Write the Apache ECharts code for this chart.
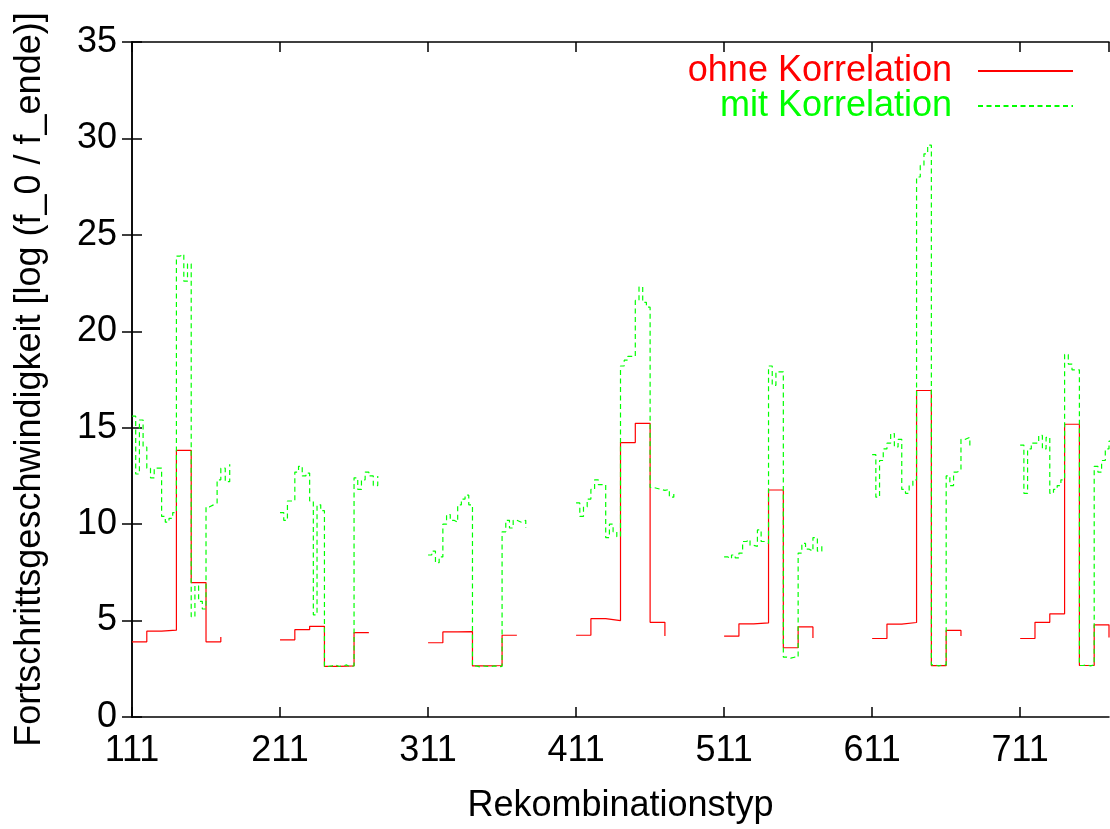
<!DOCTYPE html>
<html><head><meta charset="utf-8">
<script src="https://cdn.jsdelivr.net/npm/echarts@6/dist/echarts.min.js"></script>
<style>html,body{margin:0;padding:0;background:#fff;} #c{width:1110px;height:829px;}</style>
</head><body><div id="c"></div>
<script>
// Recombination type groups (x-axis tick labels)
const groupCodes = [111, 211, 311, 411, 511, 611, 711];
const xMaxCode = 771;
const yTicks = [0, 5, 10, 15, 20, 25, 30, 35];

// x offsets (in code units) inside each group
const redOffsets = [0, 10, 20, 30, 40, 50, 60];
const greenOffsets = [0, 2.5, 5, 7.5, 10, 12.5, 15, 17.5, 20, 22.5, 25, 27.5, 30, 32.5, 35, 37.5,
                      40, 42.5, 45, 47.5, 50, 52.5, 55, 57.5, 60, 63, 66];

// "ohne Korrelation" values per group
const red111 = [3.9, 4.45, 4.5, 13.83, 6.97, 3.9, 4.15];
const red211 = [4.0, 4.53, 4.7, 2.62, 2.65, 4.38, 4.4];
const red311 = [3.85, 4.41, 4.43, 2.65, 2.67, 4.24, 4.26];
const red411 = [4.24, 5.1, 5.0, 14.23, 15.23, 4.91, 4.2];
const red511 = [4.19, 4.83, 4.88, 11.77, 3.59, 4.67, 4.1];
const red611 = [4.07, 4.82, 4.9, 16.93, 2.66, 4.49, 4.2];
const red711 = [4.07, 4.91, 5.35, 15.18, 2.67, 4.78, 4.12];

// "mit Korrelation" values per group
const green111 = [15.6, 12.6, 15.4, 14.0, 12.9, 12.4, 12.9, 12.9, 10.4, 10.1, 10.3, 10.6,
                  23.9, 24.0, 22.6, 23.5, 5.2, 6.8, 6.0, 5.6, 10.9, 11.0, 11.1, 12.3, 12.9, 12.2, 13.1];
const green211 = [10.6, 10.2, 11.2, 11.2, 12.7, 13.0, 12.5, 12.65, 11.2, 5.3, 11.0, 10.7,
                  2.62, 2.65, 2.7, 2.62, 2.65, 2.7, 2.6, 2.66, 12.4, 11.8, 12.3, 12.7, 12.5, 12.0, 12.5];
const green311 = [8.4, 8.6, 8.0, 8.3, 10.0, 10.5, 10.2, 10.1, 11.0, 11.3, 11.5, 11.0,
                  2.65, 2.6, 2.65, 2.62, 2.62, 2.65, 2.6, 2.62, 9.6, 10.2, 9.8, 10.2, 10.1, 10.2, 9.8];
const green411 = [11.1, 10.4, 10.9, 11.3, 11.8, 12.3, 12.05, 12.05, 9.3, 10.0, 9.6, 9.35,
                  18.2, 18.5, 18.7, 18.7, 21.6, 22.3, 21.5, 21.25, 11.9, 11.85, 11.8, 11.75, 11.8, 11.4, 11.6];
const green511 = [8.3, 8.2, 8.4, 8.25, 8.5, 9.1, 9.2, 8.9, 8.85, 9.7, 9.1, 9.0,
                  18.2, 17.2, 17.9, 17.9, 3.1, 3.05, 3.1, 3.1, 8.5, 9.0, 8.7, 8.6, 9.3, 8.6, 9.0];
const green611 = [13.6, 11.4, 13.3, 13.9, 14.2, 14.7, 14.0, 14.4, 11.8, 11.6, 12.0, 12.3,
                  28.0, 28.6, 29.2, 29.65, 2.7, 2.65, 2.7, 2.7, 12.5, 12.0, 12.7, 12.8, 14.4, 14.5, 13.9];
const green711 = [14.1, 11.6, 13.9, 14.2, 14.2, 14.6, 13.9, 14.5, 11.6, 11.8, 12.0, 12.3,
                  18.8, 18.3, 18.0, 18.0, 2.67, 2.7, 2.65, 2.7, 13.0, 12.7, 13.3, 13.9, 14.3, 14.5, 14.0];

const redGroups = [red111, red211, red311, red411, red511, red611, red711];
const greenGroups = [green111, green211, green311, green411, green511, green611, green711];

function build(offsets, groups) {
  const out = [];
  groups.forEach((vals, g) => {
    const base = groupCodes[g] - groupCodes[0];
    vals.forEach((v, i) => out.push([base + offsets[i], v]));
    // break the line after each group (same x, so no extra horizontal step)
    out.push([base + offsets[vals.length - 1], null]);
  });
  return out;
}

const FONT = 'Liberation Sans';
const axisColor = '#000';
const chart = echarts.init(document.getElementById('c'), null, {renderer: 'canvas'});
const xBase = {
  type: 'value', min: 0, max: xMaxCode - groupCodes[0], interval: 100,
  splitLine: {show: false},
  axisLine: {show: true, onZero: false, lineStyle: {color: axisColor, width: 1.5}},
  axisTick: {show: true, inside: true, length: 10, lineStyle: {color: axisColor, width: 1.5}}
};
const yBase = {
  type: 'value', min: yTicks[0], max: yTicks[yTicks.length - 1], interval: yTicks[1] - yTicks[0],
  splitLine: {show: false},
  axisLine: {show: true, lineStyle: {color: axisColor, width: 1.5}},
  axisTick: {show: true, inside: true, length: 10, lineStyle: {color: axisColor, width: 1.5}}
};
chart.setOption({
  animation: false,
  backgroundColor: '#fff',
  grid: {left: 132, right: 1, top: 42, bottom: 111, containLabel: false},
  legend: {
    orient: 'vertical', right: 31, top: 48, align: 'right',
    itemWidth: 95, itemHeight: 4, itemGap: -1,
    itemStyle: {opacity: 0},
    textStyle: {fontSize: 36, fontFamily: FONT, padding: [0, 21, 0, 0]},
    data: [
      {name: 'ohne Korrelation', textStyle: {color: '#ff0000'}},
      {name: 'mit Korrelation', textStyle: {color: '#00ff00'}}
    ]
  },
  xAxis: [
    Object.assign({}, xBase, {
      position: 'bottom',
      axisLabel: {show: true, margin: 16, color: '#000', fontSize: 36, fontFamily: FONT,
                  showMaxLabel: false, formatter: v => String(v + groupCodes[0])},
      name: 'Rekombinationstyp', nameLocation: 'middle', nameGap: 71,
      nameTextStyle: {color: '#000', fontSize: 36, fontFamily: FONT}
    }),
    Object.assign({}, xBase, {position: 'top', axisLabel: {show: false}})
  ],
  yAxis: [
    Object.assign({}, yBase, {
      position: 'left',
      axisLabel: {show: true, margin: 15, color: '#000', fontSize: 36, fontFamily: FONT},
      name: 'Fortschrittsgeschwindigkeit [log (f_0 / f_ende)]', nameLocation: 'middle', nameGap: 84,
      nameRotate: 90,
      nameTextStyle: {color: '#000', fontSize: 36, fontFamily: FONT}
    }),
    Object.assign({}, yBase, {position: 'right', axisLabel: {show: false}})
  ],
  series: [
    {
      name: 'ohne Korrelation', type: 'line', step: 'end', xAxisIndex: 0, yAxisIndex: 0,
      symbol: 'none', showSymbol: false, connectNulls: false,
      lineStyle: {color: '#ff0000', width: 1.2}, itemStyle: {color: '#ff0000'},
      data: build(redOffsets, redGroups)
    },
    {
      name: 'mit Korrelation', type: 'line', step: 'end', xAxisIndex: 0, yAxisIndex: 0,
      symbol: 'none', showSymbol: false, connectNulls: false,
      lineStyle: {color: '#00ff00', width: 1.2, type: [5, 3.5]}, itemStyle: {color: '#00ff00'},
      data: build(greenOffsets, greenGroups)
    }
  ]
});
</script></body></html>
